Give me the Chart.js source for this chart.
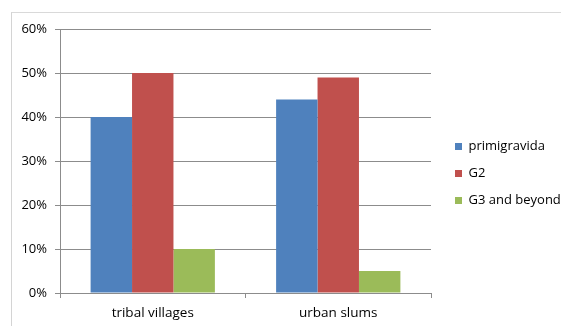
<!DOCTYPE html>
<html>
<head>
<meta charset="utf-8">
<script src="https://cdn.jsdelivr.net/npm/chart.js@4/dist/chart.umd.min.js"></script>
<style>
  body { margin: 0; background: #fff; }
  #wrap { position: relative; width: 561px; height: 326px; }
  #frame { position: absolute; left: 11px; top: 12px; right: 0; bottom: 0; border-left: 1px solid #d4d4d4; border-top: 1px solid #d9d9d9; }
  canvas { position: absolute; left: 0; top: 0; }
</style>
</head>
<body>
<div id="wrap">
  <div id="frame"></div>
  <canvas id="chart" width="561" height="326"></canvas>
</div>
<script>
const categorias = ['tribal villages', 'urban slums']
const primigravida = [40, 44]
const g2 = [50, 49]
const g3 = [10, 5]
const series = ['primigravida', 'G2', 'G3 and beyond']
const colores = ['#4F81BD', '#C0504D', '#9BBB59']

const fuente = "'Open Sans', sans-serif"
const gris = '#8c8c8c'

// legend placed to the right like the excel chart
const legendPos = {
  id: 'legendPos',
  afterInit(chart) {
    const lg = chart.legend
    const fit = lg.fit.bind(lg)
    lg.fit = function () { fit(); this.width = 130 }
  },
  afterLayout(chart) {
    const lg = chart.legend
    lg.left += 10
    lg.top -= 4
    lg.bottom -= 4
  }
}

new Chart(document.getElementById('chart').getContext('2d'), {
  type: 'bar',
  data: {
    labels: categorias,
    datasets: [primigravida, g2, g3].map((d, i) => ({
      label: series[i],
      data: d,
      backgroundColor: colores[i],
      categoryPercentage: 0.67,
      barPercentage: 1
    }))
  },
  options: {
    responsive: false,
    animation: false,
    layout: { padding: { top: 29, left: 0, right: 0, bottom: 0 } },
    plugins: {
      legend: {
        position: 'right',
        labels: {
          boxWidth: 7, boxHeight: 7, padding: 14,
          color: '#000', font: { family: fuente, size: 13 }
        }
      },
      tooltip: { enabled: false }
    },
    scales: {
      x: {
        grid: { drawOnChartArea: false, offset: true, tickLength: 5, color: gris },
        border: { color: gris },
        ticks: { color: '#000', font: { family: fuente, size: 13.5 }, padding: 7 },
        afterFit: s => { s.height = 33 }
      },
      y: {
        min: 0, max: 60,
        grid: { color: gris, tickLength: 5 },
        border: { color: gris },
        ticks: {
          stepSize: 10, color: '#000', padding: 8,
          font: { family: fuente, size: 13 },
          callback: v => v + '%'
        },
        afterFit: s => { s.width = 60 }
      }
    }
  },
  plugins: [legendPos]
})
</script>
</body>
</html>
